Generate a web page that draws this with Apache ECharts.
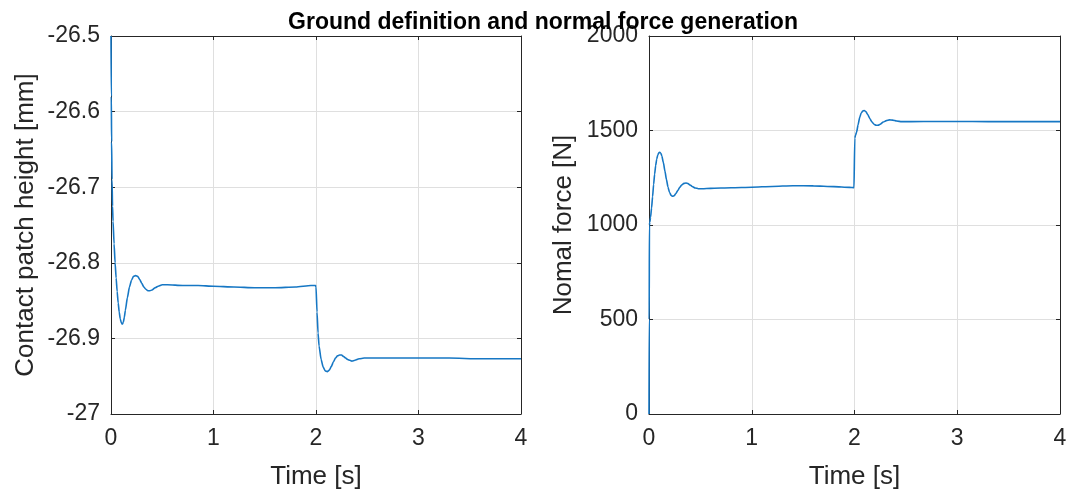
<!DOCTYPE html>
<html>
<head>
<meta charset="utf-8">
<script src="https://cdn.jsdelivr.net/npm/echarts@6/dist/echarts.min.js"></script>
<style>
  html, body { margin: 0; padding: 0; background: #ffffff; }
  #chart { width: 1072px; height: 496px; }
</style>
</head>
<body>
<div id="chart"></div>
<script>
// Contact patch height over time [s, mm]
const heightTime = [0, 0.003, 0.006, 0.01, 0.015, 0.02, 0.03, 0.04, 0.05, 0.06, 0.07, 0.08, 0.09, 0.1, 0.11, 0.12, 0.13, 0.14, 0.16, 0.18, 0.2, 0.22, 0.24, 0.26, 0.28, 0.3, 0.32, 0.34, 0.36, 0.38, 0.4, 0.43, 0.46, 0.5, 0.55, 0.7, 0.85, 1.0, 1.2, 1.4, 1.6, 1.8, 1.95, 1.995, 2.0, 2.01, 2.02, 2.03, 2.05, 2.07, 2.09, 2.11, 2.13, 2.15, 2.17, 2.19, 2.21, 2.23, 2.25, 2.27, 2.29, 2.31, 2.33, 2.35, 2.38, 2.42, 2.47, 2.55, 2.8, 3.0, 3.3, 3.6, 4.0];
const heightValues = [-26.5, -26.58, -26.64, -26.69, -26.725, -26.745, -26.775, -26.8, -26.82, -26.838, -26.853, -26.865, -26.874, -26.879, -26.881, -26.879, -26.872, -26.863, -26.846, -26.832, -26.823, -26.818, -26.817, -26.818, -26.822, -26.827, -26.832, -26.835, -26.837, -26.837, -26.836, -26.833, -26.831, -26.829, -26.829, -26.830, -26.830, -26.831, -26.832, -26.833, -26.833, -26.832, -26.830, -26.830, -26.832, -26.865, -26.893, -26.91, -26.928, -26.938, -26.943, -26.944, -26.942, -26.937, -26.931, -26.926, -26.923, -26.922, -26.922, -26.924, -26.926, -26.928, -26.929, -26.93, -26.929, -26.927, -26.926, -26.926, -26.926, -26.926, -26.926, -26.927, -26.927];

// Normal force over time [s, N]
const forceTime = [0, 0.002, 0.004, 0.008, 0.015, 0.025, 0.035, 0.045, 0.055, 0.065, 0.075, 0.085, 0.095, 0.105, 0.115, 0.125, 0.14, 0.155, 0.17, 0.185, 0.2, 0.215, 0.23, 0.245, 0.26, 0.28, 0.3, 0.32, 0.34, 0.36, 0.38, 0.4, 0.42, 0.45, 0.48, 0.52, 0.6, 0.8, 1.0, 1.2, 1.4, 1.6, 1.8, 1.95, 1.995, 2.0, 2.003, 2.01, 2.02, 2.035, 2.05, 2.065, 2.08, 2.095, 2.11, 2.13, 2.15, 2.17, 2.19, 2.21, 2.23, 2.25, 2.28, 2.31, 2.34, 2.37, 2.41, 2.46, 2.55, 2.8, 3.0, 3.3, 3.6, 4.0];
const forceValues = [0, 500, 1000, 1015, 1040, 1090, 1150, 1215, 1270, 1315, 1348, 1370, 1382, 1385, 1380, 1365, 1330, 1285, 1240, 1200, 1172, 1157, 1152, 1155, 1165, 1182, 1200, 1213, 1220, 1222, 1219, 1212, 1204, 1196, 1192, 1192, 1194, 1197, 1200, 1204, 1208, 1207, 1203, 1199, 1198, 1200, 1460, 1475, 1490, 1530, 1568, 1592, 1603, 1606, 1600, 1583, 1562, 1545, 1533, 1528, 1528, 1533, 1545, 1552, 1556, 1555, 1550, 1547, 1547, 1548, 1548, 1547, 1547, 1547];

// Axis ranges and tick spacing: [min, max, interval]
const timeRange = [0, 4, 1];
const heightRange = [-27, -26.5, 0.1];
const forceRange = [0, 2000, 500];

const titleText = 'Ground definition and normal force generation';
const timeLabel = 'Time [s]';
const heightLabel = 'Contact patch height [mm]';
const forceLabel = 'Nomal force [N]';

const zip = (xs, ys) => xs.map((x, i) => [x, ys[i]]);

const FONT = "'Liberation Sans', Arial, Helvetica, sans-serif";
const INK = '#262626';
const GRID = '#dfdfdf';
const LINE = '#1677c4';

const plainFmt = v => String(Math.round(v * 10) / 10);

function mainX(gridIndex) {
  return {
    type: 'value', gridIndex, position: 'bottom',
    min: timeRange[0], max: timeRange[1], interval: timeRange[2],
    name: timeLabel, nameLocation: 'middle', nameGap: 50,
    nameTextStyle: { fontFamily: FONT, fontSize: 26, color: INK },
    axisLine: { show: true, onZero: false, lineStyle: { color: INK, width: 1 } },
    axisTick: { show: true, inside: true, length: 4, lineStyle: { color: INK } },
    axisLabel: { fontFamily: FONT, fontSize: 23, color: INK, margin: 13, formatter: plainFmt },
    splitLine: { show: true, lineStyle: { color: GRID, width: 1 } }
  };
}

// Top and right axes close the box and carry the inner tick marks
function topX(gridIndex) {
  return {
    type: 'value', gridIndex, position: 'top',
    min: timeRange[0], max: timeRange[1], interval: timeRange[2],
    axisLine: { show: true, onZero: false, lineStyle: { color: INK, width: 1 } },
    axisTick: { show: true, inside: true, length: 4, lineStyle: { color: INK } },
    axisLabel: { show: false },
    splitLine: { show: false }
  };
}

function mainY(gridIndex, range, name) {
  return {
    type: 'value', gridIndex, position: 'left',
    min: range[0], max: range[1], interval: range[2],
    name, nameLocation: 'middle', nameGap: 72,
    nameTextStyle: { fontFamily: FONT, fontSize: 26, color: INK },
    axisLine: { show: true, onZero: false, lineStyle: { color: INK, width: 1 } },
    axisTick: { show: true, inside: true, length: 4, lineStyle: { color: INK } },
    axisLabel: { fontFamily: FONT, fontSize: 23, color: INK, margin: 11, formatter: plainFmt },
    splitLine: { show: true, lineStyle: { color: GRID, width: 1 } }
  };
}

function rightY(gridIndex, range) {
  return {
    type: 'value', gridIndex, position: 'right',
    min: range[0], max: range[1], interval: range[2],
    axisLine: { show: true, onZero: false, lineStyle: { color: INK, width: 1 } },
    axisTick: { show: true, inside: true, length: 4, lineStyle: { color: INK } },
    axisLabel: { show: false },
    splitLine: { show: false }
  };
}

const chart = echarts.init(document.getElementById('chart'), null, { renderer: 'canvas' });

chart.setOption({
  backgroundColor: '#ffffff',
  animation: false,
  title: {
    text: titleText,
    left: 538, top: 6, textAlign: 'center',
    textStyle: { fontFamily: FONT, fontSize: 23, fontWeight: 'bold', color: '#000000' }
  },
  grid: [
    { left: 111, right: 551, top: 36, bottom: 82 },
    { left: 649, right: 12, top: 36, bottom: 82 }
  ],
  xAxis: [mainX(0), topX(0), mainX(1), topX(1)],
  yAxis: [
    mainY(0, heightRange, heightLabel),
    rightY(0, heightRange),
    mainY(1, forceRange, forceLabel),
    rightY(1, forceRange)
  ],
  series: [
    {
      type: 'line', xAxisIndex: 0, yAxisIndex: 0,
      data: zip(heightTime, heightValues),
      showSymbol: false, smooth: 0.2, smoothMonotone: 'x', clip: true,
      lineStyle: { color: LINE, width: 1.6 }
    },
    {
      type: 'line', xAxisIndex: 2, yAxisIndex: 2,
      data: zip(forceTime, forceValues),
      showSymbol: false, smooth: 0.2, smoothMonotone: 'x', clip: true,
      lineStyle: { color: LINE, width: 1.6 }
    }
  ]
});
</script>
</body>
</html>
